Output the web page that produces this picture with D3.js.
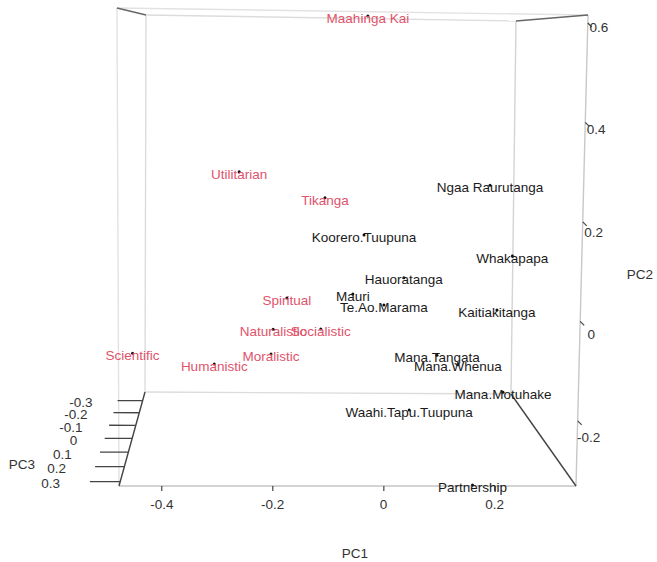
<!DOCTYPE html>
<html>
<head>
<meta charset="utf-8">
<script src="https://cdn.jsdelivr.net/npm/d3@7"></script>
<style>
  body { margin: 0; background: #fff; }
  text { font-family: "Liberation Sans", Arial, sans-serif; }
</style>
</head>
<body>
<svg id="chart" width="657" height="562"></svg>
<script>
// point labels and their PCA scores (PC3 is not readable from the view, estimated)
var names = ["Maahinga Kai", "Utilitarian", "Tikanga", "Spiritual", "Naturalistic", "Socialistic",
  "Moralistic", "Scientific", "Humanistic",
  "Ngaa Raurutanga", "Koorero.Tuupuna", "Whakapapa", "Hauoratanga", "Mauri", "Te.Ao.Marama",
  "Kaitiakitanga", "Mana.Tangata", "Mana.Whenua", "Mana.Motuhake", "Waahi.Tapu.Tuupuna", "Partnership"];
var pc1 = [-0.014, -0.265, -0.095, -0.169, -0.196, -0.101, -0.200, -0.476, -0.313,
  0.231, -0.017, 0.344, 0.063, -0.038, 0.024, 0.249, 0.131, 0.173, 0.264, 0.077, 0.160];
var pc2 = [0.614, 0.263, 0.207, -0.017, -0.087, -0.086, -0.142, -0.142, -0.165,
  0.239, 0.125, 0.020, 0.030, -0.007, -0.031, -0.041, -0.143, -0.164, -0.225, -0.266, -0.330];
var pc3 = [0, 0, 0, 0, 0, 0, 0, 0, 0,
  0, 0, -0.37, 0, 0, 0, 0, 0, 0, 0, 0, 0.325];
// 1 = red group, 0 = black group
var group = [1, 1, 1, 1, 1, 1, 1, 1, 1,
  0, 0, 0, 0, 0, 0, 0, 0, 0, 0, 0, 0];

var pc1Ticks = [-0.4, -0.2, 0, 0.2];
var pc2Ticks = [-0.2, 0, 0.2, 0.4, 0.6];
var pc3Ticks = [-0.3, -0.2, -0.1, 0, 0.1, 0.2, 0.3];

var pc1Range = [-0.477, 0.346];
var pc2Range = [-0.331, 0.616];
var pc3Range = [0.328, -0.375]; // front -> back

// box faces on screen (front face nearer the viewer)
var front = { tl: [117, 8], tr: [588, 15], bl: [119, 486], br: [576, 486] };
var back = { tl: [146, 15], tr: [516, 21], bl: [145, 392], br: [511, 394] };
var persp = 0.17;

var uScale = d3.scaleLinear().domain(pc1Range).range([0, 1]);
var vScale = d3.scaleLinear().domain(pc2Range).range([0, 1]);
var wScale = d3.scaleLinear().domain(pc3Range).range([0, 1]);

function lerp(a, b, t) {
  return [a[0] + (b[0] - a[0]) * t, a[1] + (b[1] - a[1]) * t];
}
function face(f, u, v) {
  return lerp(lerp(f.bl, f.br, u), lerp(f.tl, f.tr, u), v);
}
function project(x, y, z) {
  var u = uScale(x), v = vScale(y), w = wScale(z);
  var g = (1 + persp) * w / (1 + persp * w);
  return lerp(face(front, u, v), face(back, u, v), g);
}

var svg = d3.select("#chart");
var red = "#df536b";

// box corners
var x0 = pc1Range[0], x1 = pc1Range[1], y0 = pc2Range[0], y1 = pc2Range[1], zf = pc3Range[0], zb = pc3Range[1];
var edges = [
  // back face
  [[x0, y0, zb], [x1, y0, zb], "#dcdcdc"],
  [[x0, y1, zb], [x1, y1, zb], "#dcdcdc"],
  [[x0, y0, zb], [x0, y1, zb], "#dcdcdc"],
  [[x1, y0, zb], [x1, y1, zb], "#d4d4d4"],
  // front face
  [[x0, y1, zf], [x1, y1, zf], "#e2e2e2"],
  [[x0, y0, zf], [x0, y1, zf], "#e2e2e2"],
  [[x1, y0, zf], [x1, y1, zf], "#c8c8c8"],
  [[x0, y0, zf], [x1, y0, zf], "#c4c4c4"],
  // connectors
  [[x0, y1, zf], [x0, y1, zb], "#666"],
  [[x1, y1, zf], [x1, y1, zb], "#666"],
  [[x0, y0, zf], [x0, y0, zb], "#444"],
  [[x1, y0, zf], [x1, y0, zb], "#444"]
];

svg.append("g").selectAll("line")
  .data(edges)
  .enter()
  .append("line")
  .attr("x1", function (d) { return project(d[0][0], d[0][1], d[0][2])[0]; })
  .attr("y1", function (d) { return project(d[0][0], d[0][1], d[0][2])[1]; })
  .attr("x2", function (d) { return project(d[1][0], d[1][1], d[1][2])[0]; })
  .attr("y2", function (d) { return project(d[1][0], d[1][1], d[1][2])[1]; })
  .attr("stroke", function (d) { return d[2]; })
  .attr("stroke-width", 1.4);

// PC1 axis (front bottom edge)
var ax1 = svg.append("g");
pc1Ticks.forEach(function (t) {
  var a = project(t, y0, zf), b = project(t, y0 - 0.01, zf), l = project(t, y0 - 0.037, zf);
  ax1.append("line").attr("x1", a[0]).attr("y1", a[1]).attr("x2", b[0]).attr("y2", b[1])
    .attr("stroke", "#444").attr("stroke-width", 1.2);
  ax1.append("text").attr("x", l[0]).attr("y", l[1]).attr("dy", "0.35em")
    .attr("text-anchor", "middle").attr("font-size", 13.5).attr("fill", "#333")
    .text(t === 0 ? "0" : t);
});

// PC2 axis (front right edge)
var ax2 = svg.append("g");
pc2Ticks.forEach(function (t) {
  var a = project(x1, t, zf);
  var off = 4 + 0.03 * (a[1] - 23);
  ax2.append("line").attr("x1", a[0]).attr("y1", a[1]).attr("x2", a[0] + 4).attr("y2", a[1] + 4)
    .attr("stroke", "#444").attr("stroke-width", 1.2);
  ax2.append("text").attr("x", a[0] + 11).attr("y", a[1] + off).attr("dy", "0.35em")
    .attr("text-anchor", "middle").attr("font-size", 13.5).attr("fill", "#333")
    .text(t === 0 ? "0" : t);
});

// PC3 axis (left bottom edge, going back)
var ax3 = svg.append("g");
pc3Ticks.forEach(function (t) {
  var a = project(x0, y0, t), b = project(x0 - 0.055, y0, t);
  ax3.append("line").attr("x1", a[0]).attr("y1", a[1]).attr("x2", b[0]).attr("y2", b[1])
    .attr("stroke", "#444").attr("stroke-width", 1.3);
  ax3.append("text").attr("x", b[0] - (27.5 + 8.3 * t)).attr("y", b[1] + 2).attr("dy", "0.35em")
    .attr("text-anchor", "end").attr("font-size", 13.5).attr("fill", "#333")
    .text(t === 0 ? "0" : t);
});

// axis titles
svg.append("text").attr("x", 355).attr("y", 553).attr("dy", "0.35em").attr("text-anchor", "middle")
  .attr("font-size", 13.5).attr("fill", "#333").text("PC1");
svg.append("text").attr("x", 640).attr("y", 274).attr("dy", "0.35em").attr("text-anchor", "middle")
  .attr("font-size", 13.5).attr("fill", "#333").text("PC2");
svg.append("text").attr("x", 22).attr("y", 464).attr("dy", "0.35em").attr("text-anchor", "middle")
  .attr("font-size", 13.5).attr("fill", "#333").text("PC3");

// points
var pts = names.map(function (n, i) {
  return { name: n, p: project(pc1[i], pc2[i], pc3[i]), g: group[i] };
});

svg.append("g").selectAll("circle")
  .data(pts)
  .enter()
  .append("circle")
  .attr("cx", function (d) { return d.p[0]; })
  .attr("cy", function (d) { return d.p[1]; })
  .attr("r", 1.5)
  .attr("fill", "#111");

svg.append("g").selectAll("text")
  .data(pts)
  .enter()
  .append("text")
  .attr("x", function (d) { return d.p[0]; })
  .attr("y", function (d) { return d.p[1] + 2; })
  .attr("dy", "0.35em")
  .attr("text-anchor", "middle")
  .attr("font-size", 13.5)
  .attr("fill", function (d) { return d.g ? red : "#1a1a1a"; })
  .text(function (d) { return d.name; });
</script>
</body>
</html>
